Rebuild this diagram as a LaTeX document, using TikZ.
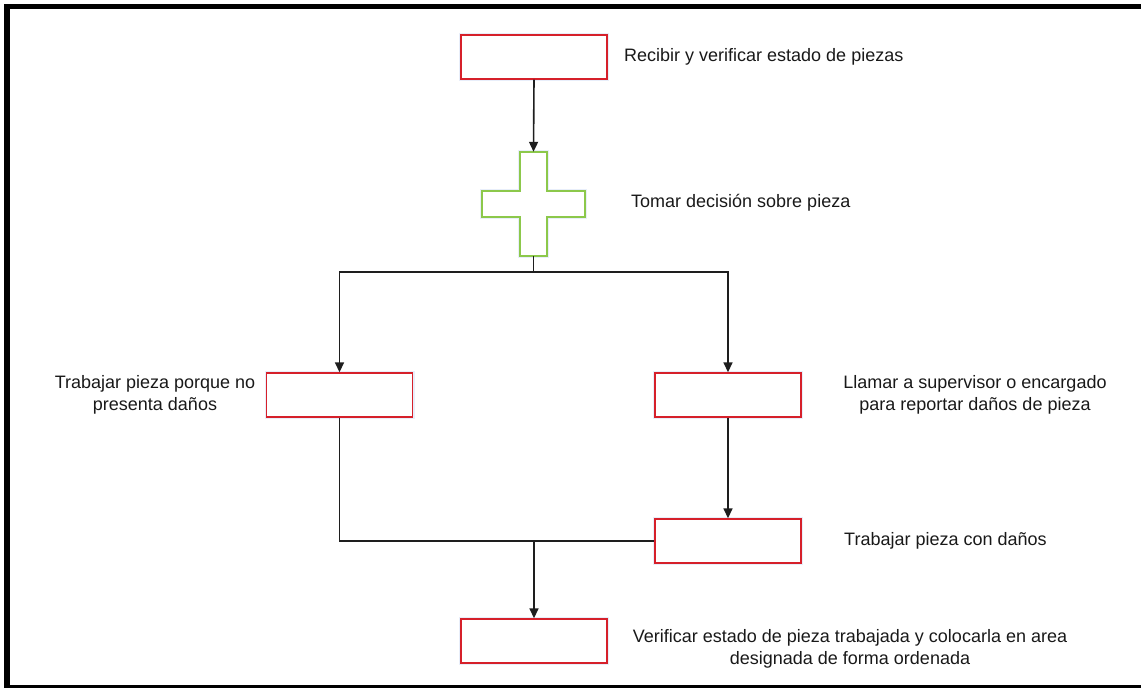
\documentclass[tikz,border=0pt]{standalone}
\usepackage{fontspec}
\setmainfont{Liberation Sans}
\usetikzlibrary{arrows.meta}

\definecolor{boxred}{RGB}{214,32,42}
\definecolor{crossgreen}{RGB}{140,200,75}
\definecolor{halo}{RGB}{232,238,250}
\definecolor{linegray}{RGB}{30,30,30}
\definecolor{textgray}{RGB}{25,25,25}

\tikzset{
  stepbox/.style={draw=boxred, line width=1.4pt, fill=white,
    minimum width=146pt, minimum height=44pt, inner sep=0pt,
    preaction={draw=halo, line width=4pt}},
  label/.style={text=textgray, inner sep=0pt,
    font=\fontsize{18}{22}\selectfont},
  link/.style={draw=linegray, line width=1.6pt},
  arrowlink/.style={link, -{Triangle[length=10pt,width=9pt]}},
  frameline/.style={draw=black, line cap=rect}
}

\begin{document}
\begin{tikzpicture}[x=1pt, y=-1pt]
  \useasboundingbox (0,0) rectangle (1141,688);

  % outer frame (open on the right)
  \draw[frameline, line width=5.5pt] (1141,6.7) -- (7,6.7);
  \draw[frameline, line width=6pt] (7,6.7) -- (7,686);
  \draw[frameline, line width=3.6pt] (7,686.3) -- (1141,686.3);

  % process boxes
  \node[stepbox] (recv)   at (534,57)  {};
  \node[stepbox] (left)   at (339.5,395) {};
  \node[stepbox] (right)  at (728,395) {};
  \node[stepbox] (damage) at (728,541) {};
  \node[stepbox] (final)  at (534,641) {};

  % decision cross
  \node[minimum width=103pt, minimum height=104pt, inner sep=0pt] (cross) at (533.5,204) {};
  \draw[halo, line width=4pt]
    (520,152) -- (547,152) -- (547,191) -- (585,191) -- (585,217) -- (547,217)
    -- (547,256) -- (520,256) -- (520,217) -- (482,217) -- (482,191) -- (520,191) -- cycle;
  \draw[crossgreen, line width=1.4pt, fill=white, line join=miter]
    (520,152) -- (547,152) -- (547,191) -- (585,191) -- (585,217) -- (547,217)
    -- (547,256) -- (520,256) -- (520,217) -- (482,217) -- (482,191) -- (520,191) -- cycle;

  % junction points
  \coordinate (split) at (533.5,272);
  \coordinate (join)  at (534,541);

  % connectors
  \draw[arrowlink] (recv.south) -- (cross.north);
  \draw[link] (cross.south) -- (split);
  \draw[arrowlink] (split) -| (left.north);
  \draw[arrowlink] (split) -| (right.north);
  \draw[arrowlink] (right.south) -- (damage.north);
  \draw[link] (left.south) |- (damage.west);
  \draw[arrowlink] (join) -- (final.north);

  % labels
  \node[label, anchor=west] (t1) at (624,57) {Recibir y verificar estado de piezas};
  \node[label, anchor=west] (t2) at (631,203) {Tomar decisión sobre pieza};
  \node[label, align=center] (t3) at (155,395) {Trabajar pieza porque no\\presenta daños};
  \node[label, align=center] (t4) at (975,395) {Llamar a supervisor o encargado\\para reportar daños de pieza};
  \node[label, anchor=west] (t5) at (844,541) {Trabajar pieza con daños};
  \node[label, align=center] (t6) at (850,649) {Verificar estado de pieza trabajada y colocarla en area\\designada de forma ordenada};
\end{tikzpicture}
\end{document}
